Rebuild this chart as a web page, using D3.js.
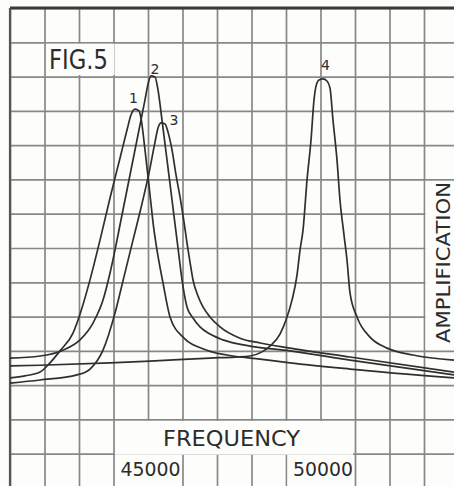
<!DOCTYPE html>
<html><head><meta charset="utf-8">
<script src="https://cdn.jsdelivr.net/npm/d3@7"></script>
<style>html,body{margin:0;padding:0;background:#fdfdfb;}svg{display:block;}</style>
</head><body>
<script>
// ---- data (frequency in c/s, amplification in grid units) ----
const xTickLabels = [45000, 50000];
const gridFreqs = d3.range(41000, 53001, 1000);
const gridAmps = d3.range(0, 15, 1);
const curveNames = ["1", "2", "3", "4"];

const curve1 = [[41000,3.21],[41435,3.27],[41870,3.38],[42159,3.65],[42449,4.00],[42826,4.52],[43029,5.07],[43319,6.07],[43609,7.23],[43899,8.46],[44188,9.62],[44391,10.44],[44507,10.88],[44623,11.05],[44739,11.00],[44797,10.79],[44913,9.86],[45058,8.55],[45174,7.52],[45261,6.94],[45435,5.98],[45638,4.99],[46014,4.40],[46710,4.02],[47464,3.85],[48246,3.76],[49116,3.65],[50855,3.47],[53870,3.21]];
const curve2 = [[41000,3.79],[41870,3.85],[42536,4.02],[43029,4.32],[43406,4.81],[43696,5.48],[43899,6.27],[44043,6.94],[44188,7.67],[44478,9.13],[44768,10.59],[44913,11.32],[45000,11.78],[45087,12.02],[45203,11.99],[45290,11.61],[45406,10.73],[45522,9.80],[45638,8.87],[45754,7.93],[45870,7.00],[45986,6.07],[46130,5.28],[46304,4.96],[46507,4.70],[46797,4.49],[47174,4.32],[47957,4.14],[49116,4.00],[50855,3.73],[53870,3.30]];
const curve3 = [[41000,3.06],[41870,3.15],[42942,3.30],[43319,3.47],[43696,4.02],[44043,5.10],[44275,6.04],[44565,7.23],[44768,8.05],[45058,9.33],[45203,10.09],[45290,10.50],[45377,10.65],[45493,10.62],[45580,10.38],[45696,9.86],[45812,9.13],[45928,8.49],[46043,7.76],[46130,7.15],[46217,6.59],[46304,6.07],[46449,5.60],[46594,5.28],[46797,4.99],[47087,4.70],[47667,4.37],[48246,4.23],[49116,4.08],[50855,3.82],[53870,3.38]];
const curve4 = [[41000,3.56],[41870,3.58],[43899,3.65],[45058,3.70],[46797,3.79],[47522,3.82],[47957,3.85],[48304,3.97],[48536,4.14],[48826,4.49],[49000,4.90],[49174,5.48],[49319,6.21],[49406,6.94],[49493,7.52],[49609,8.98],[49725,10.15],[49812,11.32],[49870,11.72],[49957,11.90],[50073,11.93],[50188,11.87],[50275,11.67],[50362,10.73],[50478,9.57],[50565,8.40],[50681,7.38],[50768,6.65],[50855,5.69],[51058,4.99],[51435,4.40],[51928,4.08],[52681,3.88],[53870,3.73]];
const curves = [curve1, curve2, curve3, curve4];
const labelPos = [[44580,11.23],[45200,12.07],[45754,10.59],[50145,12.19]];

const W = 454, H = 486;
const svg = d3.select("body").append("svg").attr("width", W).attr("height", H);
svg.append("rect").attr("width", W).attr("height", H).attr("fill", "#fdfdfb");

const x = d3.scaleLinear().domain([41000, 53000]).range([10, 424]);
const y = d3.scaleLinear().domain([0, 14]).range([488, 8]);

const gridColor = "#868985";
const gx = svg.append("g").attr("transform", `translate(0,${y(14)})`)
  .call(d3.axisBottom(x).tickValues(gridFreqs).tickSize(H).tickFormat(""));
gx.select(".domain").remove();
gx.selectAll("line").attr("stroke", gridColor).attr("stroke-width", 1.7);
const gy = svg.append("g").attr("transform", `translate(${x(41000)},0)`)
  .call(d3.axisRight(y).tickValues(gridAmps).tickSize(W).tickFormat(""));
gy.select(".domain").remove();
gy.selectAll("line").attr("stroke", gridColor).attr("stroke-width", 1.7);

// borders
svg.append("line").attr("x1", x(41000)).attr("x2", W).attr("y1", y(14)).attr("y2", y(14))
  .attr("stroke", "#3a3a3a").attr("stroke-width", 3);
svg.append("line").attr("x1", x(41000)).attr("x2", x(41000)).attr("y1", y(14)).attr("y2", H)
  .attr("stroke", "#555").attr("stroke-width", 2.2);

// label boxes hiding grid
const bg = "#fdfdfb";
function box(x0, y0, x1, y1) {
  svg.append("rect").attr("x", x0).attr("y", y0).attr("width", x1 - x0).attr("height", y1 - y0).attr("fill", bg);
}
box(x(41000) + 36, y(13) + 1.5, x(44000) + 1, y(12) - 1.5);     // FIG.5
box(x(53000) + 1.5, y(9) + 1.5, W, y(4) - 1.5);                  // AMPLIFICATION
box(x(44000) + 1.5, y(2) + 1.5, x(50000) - 1.5 + 34, y(1) + 1);  // FREQUENCY
box(x(44000) + 1.5, y(1) + 1, x(46000) - 1.5, H);                // 45000
box(x(49000) + 1.5, y(1) + 1, x(51000) - 1.5, H);                // 50000

// curves
const line = d3.line().x(d => x(d[0])).y(d => y(d[1])).curve(d3.curveMonotoneX);
svg.append("clipPath").attr("id", "clip").append("rect")
  .attr("x", x(41000)).attr("y", y(14)).attr("width", W - x(41000)).attr("height", H - y(14));
svg.append("g").attr("clip-path", "url(#clip)").selectAll("path").data(curves).join("path")
  .attr("d", line).attr("fill", "none").attr("stroke", "#2f2f2f").attr("stroke-width", 1.7)
  .attr("stroke-linejoin", "round");

const font = "'DejaVu Sans', sans-serif";
const ink = "#2c2c2c";
svg.append("g").selectAll("text").data(curveNames).join("text")
  .attr("x", (d, i) => x(labelPos[i][0])).attr("y", (d, i) => y(labelPos[i][1]))
  .attr("text-anchor", "middle").attr("font-family", font).attr("font-size", 14)
  .attr("fill", ink).text(d => d);

svg.append("text").attr("x", 49).attr("y", 69).attr("font-family", font).attr("font-size", 26)
  .attr("textLength", 59).attr("lengthAdjust", "spacingAndGlyphs").attr("fill", ink).text("FIG.5");

svg.append("text").attr("x", 163).attr("y", 446).attr("font-family", font).attr("font-size", 22)
  .attr("textLength", 137).attr("lengthAdjust", "spacingAndGlyphs").attr("fill", ink).text("FREQUENCY");

svg.append("text").attr("transform", "translate(450,343) rotate(-90)").attr("font-family", font)
  .attr("font-size", 20).attr("textLength", 161).attr("lengthAdjust", "spacingAndGlyphs")
  .attr("fill", ink).text("AMPLIFICATION");

const ax = svg.append("g").attr("transform", `translate(0,${H - 24})`)
  .call(d3.axisBottom(x).tickValues(xTickLabels).tickSize(0).tickPadding(0).tickFormat(d3.format("d")));
ax.select(".domain").remove();
ax.selectAll("text").attr("font-family", font).attr("font-size", 20).attr("fill", ink)
  .attr("dy", "0.71em").attr("dx", 2).attr("textLength", 60).attr("lengthAdjust", "spacingAndGlyphs");
</script>
</body></html>
